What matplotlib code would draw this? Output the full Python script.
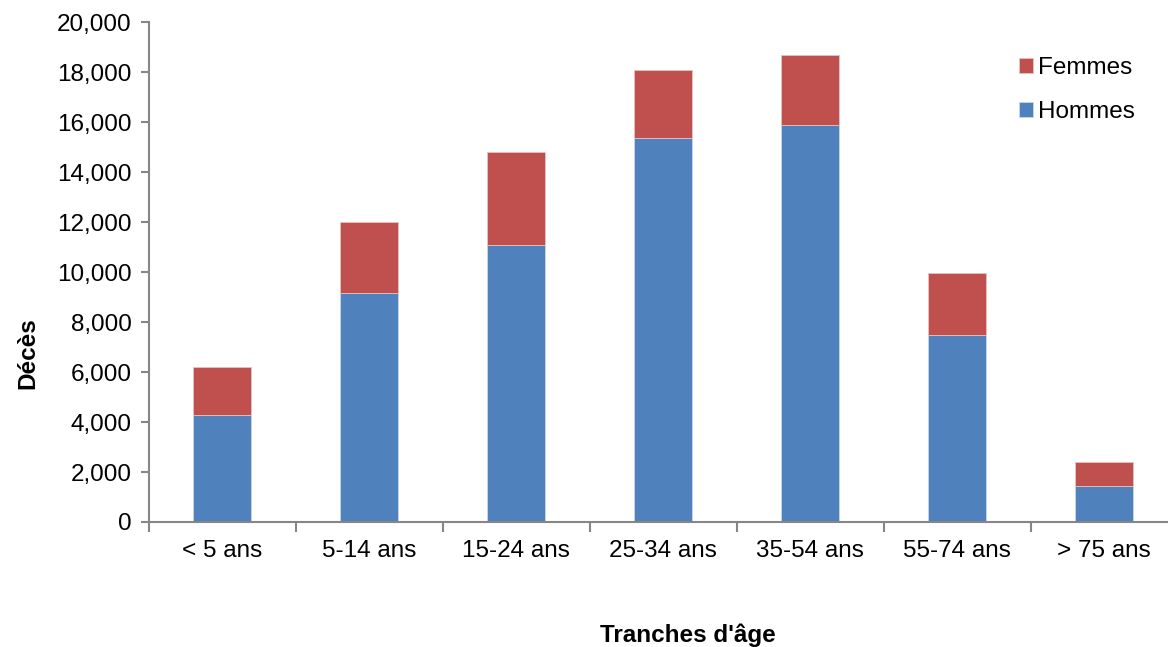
import matplotlib.pyplot as plt
from matplotlib.ticker import FuncFormatter, FixedLocator

plt.rcParams['font.family'] = ['Liberation Sans', 'DejaVu Sans']

categories = ['< 5 ans', '5-14 ans', '15-24 ans', '25-34 ans', '35-54 ans', '55-74 ans', '> 75 ans']
hommes = [4270, 9160, 11080, 15350, 15900, 7480, 1430]
totals = [6200, 12000, 14800, 18100, 18700, 9960, 2390]
femmes = [t - h for t, h in zip(totals, hommes)]

blue = '#4F81BD'
red = '#C0504D'
grey = '#868686'
fs = 17.5

fig = plt.figure(figsize=(11.68, 6.47), dpi=100)
ax = fig.add_axes([148.5 / 1168, 125 / 647, 1029 / 1168, 500 / 647])

x = range(len(categories))
b1 = ax.bar(x, hommes, width=0.39, color=blue, edgecolor='#c9d6e8', linewidth=0.6, label='Hommes')
b2 = ax.bar(x, femmes, bottom=hommes, width=0.39, color=red, edgecolor='#e6c2c1', linewidth=0.6, label='Femmes')

ax.set_xlim(-0.5, len(categories) - 0.5)
ax.set_ylim(0, 20000)
ax.set_yticks(range(0, 20001, 2000))
ax.yaxis.set_major_formatter(FuncFormatter(lambda v, p: f'{int(v):,}'))
ax.set_xticks(list(x))
ax.set_xticklabels(categories)
ax.xaxis.set_minor_locator(FixedLocator([i - 0.5 for i in range(len(categories) + 1)]))

for s in ['top', 'right']:
    ax.spines[s].set_visible(False)
for s in ['left', 'bottom']:
    ax.spines[s].set_color(grey)
    ax.spines[s].set_linewidth(1.5)

ax.tick_params(axis='y', length=6, width=1.5, color=grey, labelsize=fs, pad=6)
ax.tick_params(axis='x', which='major', length=0, labelsize=fs, pad=13)
ax.tick_params(axis='x', which='minor', length=7, width=1.5, color=grey)

fig.text(688 / 1168, 12 / 647, "Tranches d'âge", ha='center', va='center', fontsize=fs, fontweight='bold')
fig.text(28 / 1168, (647 - 353) / 647, 'Décès', ha='center', va='center', rotation=90,
         fontsize=fs, fontweight='bold')

ax.legend([b2, b1], ['Femmes', 'Hommes'], loc='upper left', bbox_to_anchor=(1019 / 1168, (647 - 57) / 647),
          bbox_transform=fig.transFigure, frameon=False, fontsize=fs, handlelength=0.58, handleheight=0.58,
          handletextpad=0.22, labelspacing=0.92, borderaxespad=0, borderpad=0)

fig.savefig('out.png', dpi=100)
